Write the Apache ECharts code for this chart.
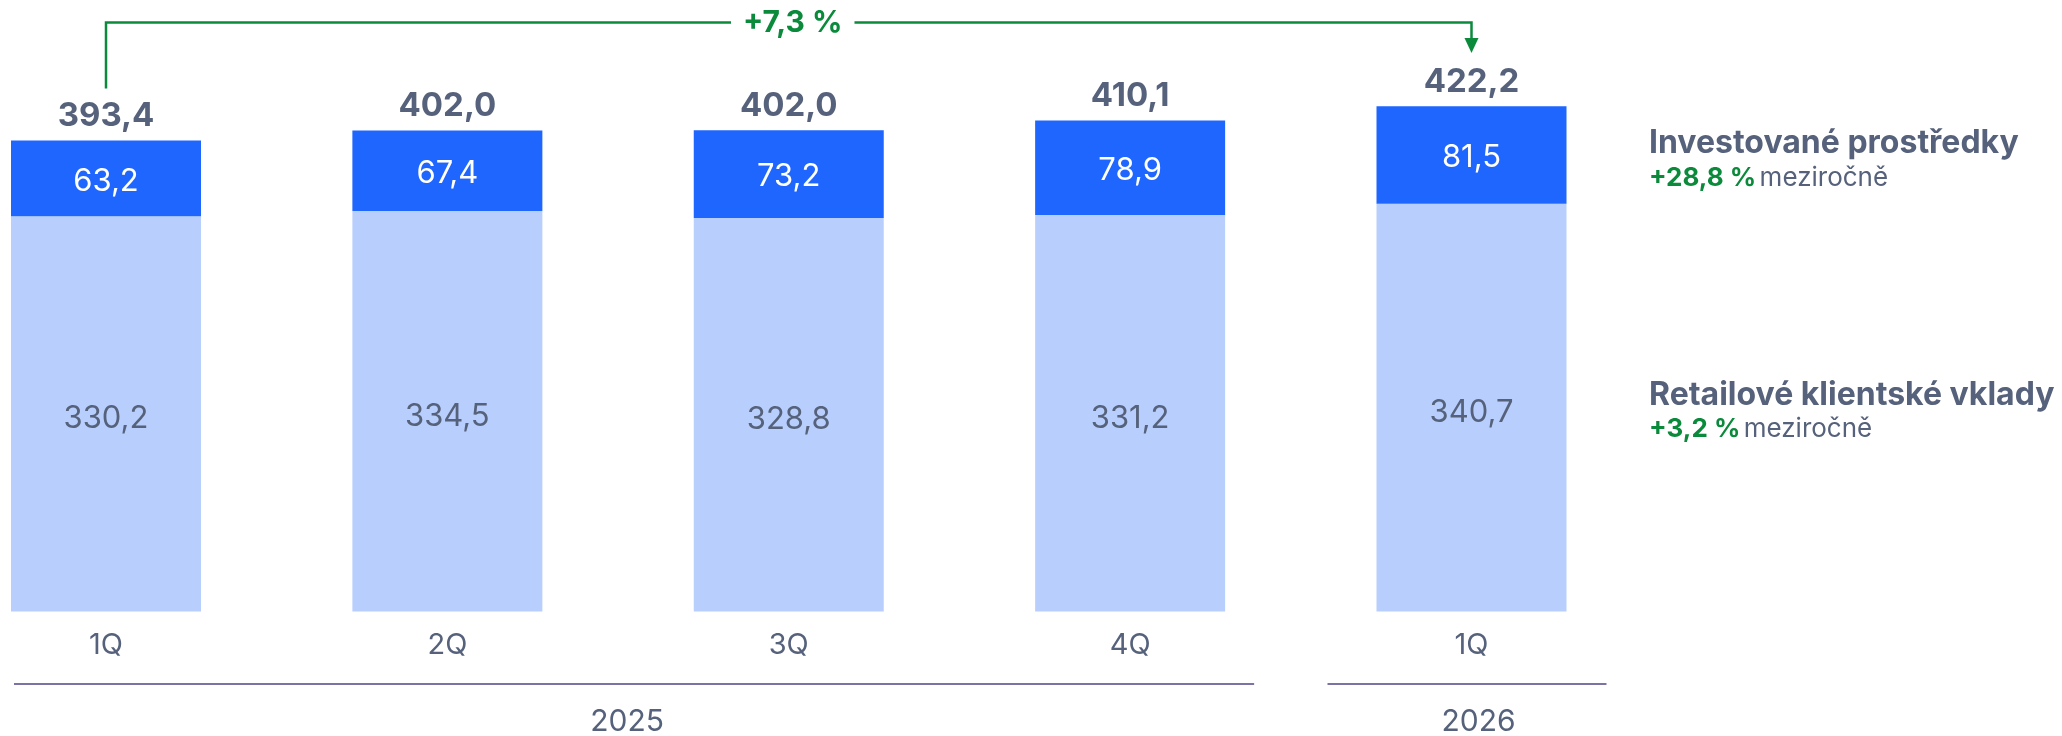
<!DOCTYPE html>
<html>
<head>
<meta charset="utf-8">
<script src="https://cdn.jsdelivr.net/npm/echarts@6/dist/echarts.min.js"></script>
<style>
  html, body { margin: 0; padding: 0; background: #fff; }
  #chart { width: 2062px; height: 736px; }
</style>
</head>
<body>
<div id="chart"></div>
<script>
// data
var quarters = ['1Q', '2Q', '3Q', '4Q', '1Q']
var years = ['2025', '2025', '2025', '2025', '2026']
var retail = [330.2, 334.5, 328.8, 331.2, 340.7]
var invested = [63.2, 67.4, 73.2, 78.9, 81.5]
var totals = [393.4, 402.0, 402.0, 410.1, 422.2]
var growthTotal = '+7,3 %'
var seriesNames = ['Retailové klientské vklady', 'Investované prostředky']
var seriesGrowth = ['+3,2 %', '+28,8 %']

var gray = '#56627b'
var green = '#0b8a3c'
var font = 'Inter'

function fmt(v) {
  return v.toFixed(1).replace('.', ',')
}

var chart = echarts.init(document.getElementById('chart'))

var option = {
  animation: false,
  grid: { left: 106, right: 590.5, top: 13, bottom: 124.5 },
  xAxis: {
    type: 'category',
    boundaryGap: false,
    data: quarters.map(function(q, i) { return q + ' ' + years[i] }),
    axisLine: { show: false },
    axisTick: { show: false },
    axisLabel: {
      margin: 19,
      color: gray,
      fontFamily: font,
      fontSize: 29,
      formatter: function(v) { return v.split(' ')[0] }
    }
  },
  yAxis: {
    type: 'value',
    min: 0,
    max: 500,
    show: false,
    splitLine: { show: false }
  },
  series: [
    {
      name: seriesNames[0],
      type: 'bar',
      stack: 'all',
      barWidth: 190,
      data: retail,
      itemStyle: { color: '#b8cffd' },
      label: {
        show: true,
        position: 'inside',
        offset: [0, 5],
        color: gray,
        fontFamily: font,
        fontSize: 31,
        formatter: function(p) { return fmt(p.value) }
      }
    },
    {
      name: seriesNames[1],
      type: 'bar',
      stack: 'all',
      barWidth: 190,
      data: invested,
      itemStyle: { color: '#1f66ff' },
      label: {
        show: true,
        position: 'inside',
        offset: [0, 3],
        color: '#fff',
        fontFamily: font,
        fontSize: 31,
        formatter: function(p) { return fmt(p.value) }
      }
    },
    {
      // total label on top of stack
      name: 'total',
      type: 'bar',
      stack: 'all',
      barWidth: 190,
      data: totals.map(function() { return 0 }),
      itemStyle: { color: 'transparent' },
      label: {
        show: true,
        position: 'top',
        distance: 8,
        color: gray,
        fontFamily: font,
        fontWeight: 'bold',
        fontSize: 33,
        formatter: function(p) { return fmt(totals[p.dataIndex]) }
      }
    }
  ]
}
chart.setOption(option)

// annotations, placed from the axis positions
function px(i) { return chart.convertToPixel({ xAxisIndex: 0 }, i) }
function py(v) { return chart.convertToPixel({ yAxisIndex: 0 }, v) }

var x0 = px(0)
var x4 = px(4)
var lineY = 22.5
var lineStyle = { stroke: '#7a74a6', lineWidth: 2 }

var graphics = [
  {
    type: 'polyline',
    shape: { points: [[x0, py(totals[0]) - 52], [x0, lineY], [x4, lineY], [x4, 39]] },
    style: { stroke: green, lineWidth: 2.5, fill: null }
  },
  {
    type: 'polygon',
    shape: { points: [[x4 - 7, 38], [x4 + 7, 38], [x4, 53]] },
    style: { fill: green }
  },
  {
    type: 'text',
    x: (x0 + x4) / 2 + 4,
    y: lineY,
    style: {
      text: growthTotal,
      align: 'center',
      verticalAlign: 'middle',
      fill: green,
      font: 'bold 30px Inter',
      backgroundColor: '#fff',
      padding: [2, 12]
    }
  },
  // year group lines
  {
    type: 'line',
    shape: { x1: x0 - 92, y1: 684, x2: px(3) + 124, y2: 684 },
    style: lineStyle
  },
  {
    type: 'line',
    shape: { x1: x4 - 144, y1: 684, x2: x4 + 135, y2: 684 },
    style: lineStyle
  },
  {
    type: 'text',
    x: (px(1) + px(2)) / 2 + 9,
    y: 722,
    style: { text: years[0], align: 'center', verticalAlign: 'middle', fill: gray, font: '30px Inter' }
  },
  {
    type: 'text',
    x: x4 + 7,
    y: 722,
    style: { text: years[4], align: 'center', verticalAlign: 'middle', fill: gray, font: '30px Inter' }
  }
]

// series legend texts at the right
var legendY = [[143, 178], [395, 429]]
var legendOrder = [1, 0]
legendOrder.forEach(function(s, k) {
  graphics.push({
    type: 'text',
    x: 1649,
    y: legendY[k][0],
    style: {
      text: seriesNames[s],
      verticalAlign: 'middle',
      fill: gray,
      font: 'bold 32px Inter'
    }
  })
  graphics.push({
    type: 'text',
    x: 1649,
    y: legendY[k][1],
    style: {
      text: '{g|' + seriesGrowth[s] + '} {m|meziročně}',
      verticalAlign: 'middle',
      rich: {
        g: { fill: green, fontFamily: font, fontWeight: 'bold', fontSize: 26 },
        m: { fill: gray, fontFamily: font, fontSize: 26 }
      }
    }
  })
})

chart.setOption({ graphic: graphics })
</script>
</body>
</html>
